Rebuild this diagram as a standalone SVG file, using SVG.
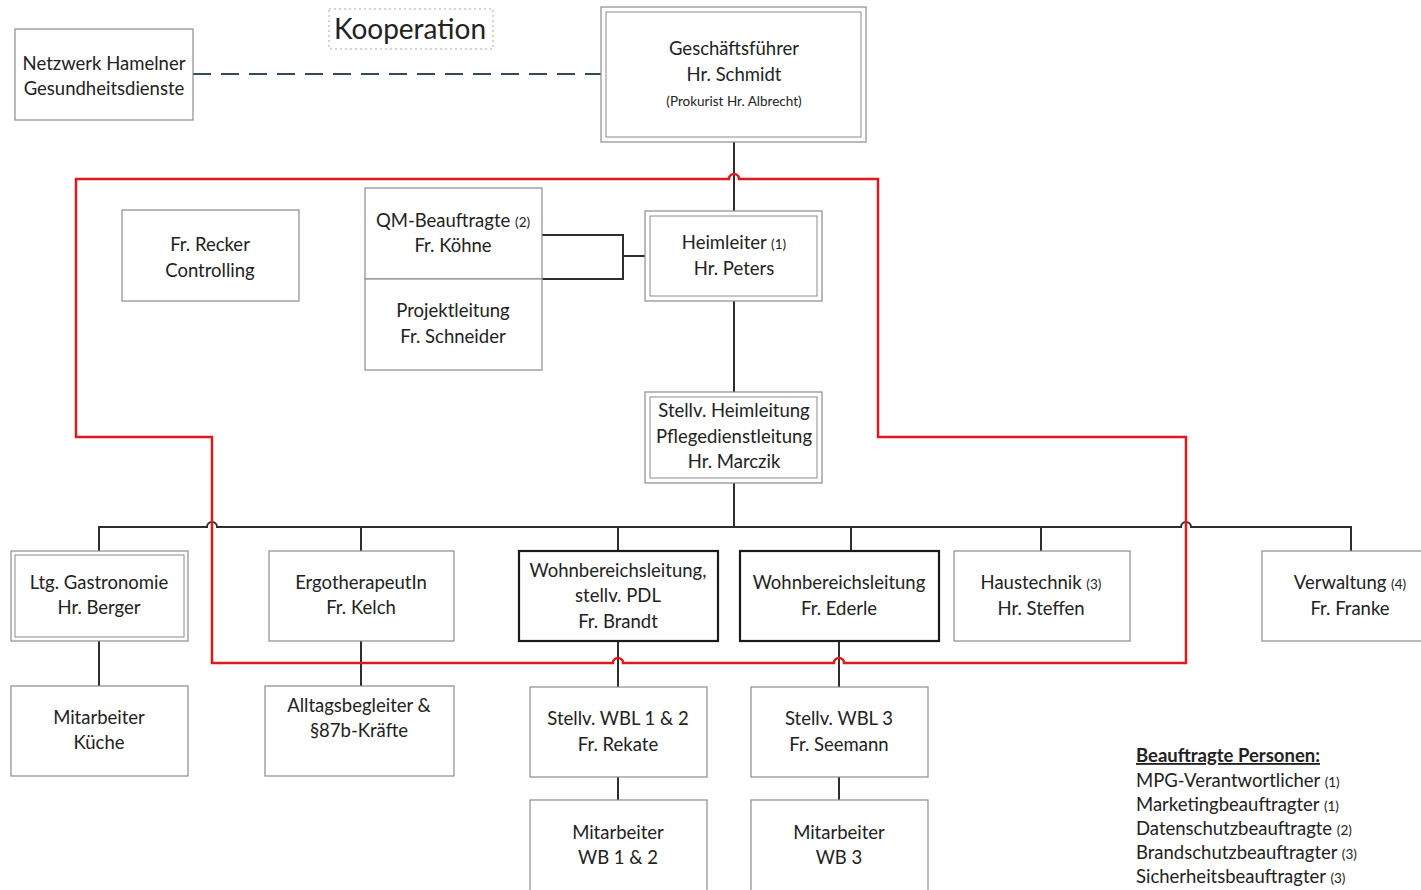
<svg xmlns="http://www.w3.org/2000/svg" width="1421" height="890" viewBox="0 0 1421 890">
<style>
text{font-family:Lato,"Open Sans","Liberation Sans",sans-serif;font-size:18.5px;fill:#222;text-anchor:middle}
.sm{font-size:13.5px}
.box{fill:#fff;stroke:#8c8c8c;stroke-width:1.2}
.inner{fill:none;stroke:#8c8c8c;stroke-width:1}
.bold{fill:#fff;stroke:#1a1a1a;stroke-width:2.2}
.con{fill:none;stroke:#2e2e2e;stroke-width:2}
.red{fill:none;stroke:#e0191e;stroke-width:2.5}
.leg{text-anchor:start}
</style>
<rect width="1421" height="890" fill="#fff"/>
<g id="connectors">
<path class="con" d="M193,74 L601,74" stroke-dasharray="18,10" style="stroke:#34495a"/>
<path class="con" d="M734,142 L734,211"/>
<path class="con" d="M542,235 L623,235 L623,279 L542,279 M623,256 L645,256"/>
<path class="con" d="M734,301 L734,392"/>
<path class="con" d="M734,483 L734,527"/>
<path class="con" d="M99,551 L99,527 L207,527 A5,5 0 0 1 217,527 L1181,527 A5,5 0 0 1 1191,527 L1351,527 L1351,551"/>
<path class="con" d="M361,527 L361,551 M618,527 L618,551 M851,527 L851,551 M1041,527 L1041,551"/>
<path class="con" d="M99,641 L99,686 M361,641 L361,686 M618,641 L618,687 M839,641 L839,687 M618,777 L618,800 M839,777 L839,800"/>
<path class="red" d="M76,179 L729,179 A5,5 0 0 1 739,179 L878,179 L878,437 L1186,437 L1186,663 L844,663 A5,5 0 0 0 834,663 L623,663 A5,5 0 0 0 613,663 L212,663 L212,437 L76,437 Z"/>
</g>
<g id="kooperation">
<rect x="329" y="9" width="164" height="40" fill="#fff" stroke="#aaa" stroke-width="1" stroke-dasharray="2,3"/>
<text x="410" y="39" style="font-size:28px">Kooperation</text>
</g>
<g id="netzwerk">
<rect class="box" x="15" y="29" width="178" height="91"/>
<text x="104" y="70">Netzwerk Hamelner</text>
<text x="104" y="95">Gesundheitsdienste</text>
</g>
<g id="geschaeftsfuehrer">
<rect class="box" x="601" y="7" width="265" height="135"/>
<rect class="inner" x="606" y="12" width="255" height="125"/>
<text x="734" y="55">Geschäftsführer</text>
<text x="734" y="81">Hr. Schmidt</text>
<text class="sm" x="734" y="106">(Prokurist Hr. Albrecht)</text>
</g>
<g id="recker">
<rect class="box" x="122" y="210" width="177" height="91"/>
<text x="210" y="251">Fr. Recker</text>
<text x="210" y="277">Controlling</text>
</g>
<g id="qm">
<rect class="box" x="365" y="188" width="177" height="91"/>
<text x="453" y="227">QM-Beauftragte <tspan class="sm">(2)</tspan></text>
<text x="453" y="252">Fr. Köhne</text>
</g>
<g id="projektleitung">
<rect class="box" x="365" y="279" width="177" height="91"/>
<text x="453" y="317">Projektleitung</text>
<text x="453" y="343">Fr. Schneider</text>
</g>
<g id="heimleiter">
<rect class="box" x="645" y="211" width="177" height="90"/>
<rect class="inner" x="650" y="216" width="167" height="80"/>
<text x="734" y="249">Heimleiter <tspan class="sm">(1)</tspan></text>
<text x="734" y="275">Hr. Peters</text>
</g>
<g id="stellv-heimleitung">
<rect class="box" x="645" y="392" width="177" height="91"/>
<rect class="inner" x="650" y="397" width="167" height="81"/>
<text x="734" y="417">Stellv. Heimleitung</text>
<text x="734" y="443">Pflegedienstleitung</text>
<text x="734" y="468">Hr. Marczik</text>
</g>
<g id="gastronomie">
<rect class="box" x="11" y="551" width="177" height="90"/>
<rect class="inner" x="15" y="555" width="169" height="82"/>
<text x="99" y="589">Ltg. Gastronomie</text>
<text x="99" y="614">Hr. Berger</text>
</g>
<g id="ergotherapeutin">
<rect class="box" x="269" y="551" width="185" height="90"/>
<text x="361" y="589">ErgotherapeutIn</text>
<text x="361" y="614">Fr. Kelch</text>
</g>
<g id="wbl-brandt">
<rect class="bold" x="519" y="551" width="199" height="90"/>
<text x="618" y="577">Wohnbereichsleitung,</text>
<text x="618" y="602">stellv. PDL</text>
<text x="618" y="628">Fr. Brandt</text>
</g>
<g id="wbl-ederle">
<rect class="bold" x="740" y="551" width="199" height="90"/>
<text x="839" y="589">Wohnbereichsleitung</text>
<text x="839" y="615">Fr. Ederle</text>
</g>
<g id="haustechnik">
<rect class="box" x="954" y="551" width="176" height="90"/>
<text x="1041" y="589">Haustechnik <tspan class="sm">(3)</tspan></text>
<text x="1041" y="615">Hr. Steffen</text>
</g>
<g id="verwaltung">
<rect class="box" x="1262" y="551" width="170" height="90"/>
<text x="1350" y="589">Verwaltung <tspan class="sm">(4)</tspan></text>
<text x="1350" y="615">Fr. Franke</text>
</g>
<g id="mitarbeiter-kueche">
<rect class="box" x="11" y="686" width="177" height="90"/>
<text x="99" y="724">Mitarbeiter</text>
<text x="99" y="749">Küche</text>
</g>
<g id="alltagsbegleiter">
<rect class="box" x="265" y="686" width="189" height="90"/>
<text x="359" y="712">Alltagsbegleiter &amp;</text>
<text x="359" y="737">§87b-Kräfte</text>
</g>
<g id="stellv-wbl-12">
<rect class="box" x="530" y="687" width="177" height="90"/>
<text x="618" y="725">Stellv. WBL 1 &amp; 2</text>
<text x="618" y="751">Fr. Rekate</text>
</g>
<g id="stellv-wbl-3">
<rect class="box" x="751" y="687" width="177" height="90"/>
<text x="839" y="725">Stellv. WBL 3</text>
<text x="839" y="751">Fr. Seemann</text>
</g>
<g id="mitarbeiter-wb12">
<rect class="box" x="530" y="800" width="177" height="100"/>
<text x="618" y="839">Mitarbeiter</text>
<text x="618" y="864">WB 1 &amp; 2</text>
</g>
<g id="mitarbeiter-wb3">
<rect class="box" x="751" y="800" width="177" height="100"/>
<text x="839" y="839">Mitarbeiter</text>
<text x="839" y="864">WB 3</text>
</g>
<g id="legende">
<text class="leg" x="1136" y="762" style="font-weight:bold;text-decoration:underline">Beauftragte Personen:</text>
<text class="leg" x="1136" y="787">MPG-Verantwortlicher <tspan class="sm">(1)</tspan></text>
<text class="leg" x="1136" y="811">Marketingbeauftragter <tspan class="sm">(1)</tspan></text>
<text class="leg" x="1136" y="835">Datenschutzbeauftragte <tspan class="sm">(2)</tspan></text>
<text class="leg" x="1136" y="859">Brandschutzbeauftragter <tspan class="sm">(3)</tspan></text>
<text class="leg" x="1136" y="883">Sicherheitsbeauftragter <tspan class="sm">(3)</tspan></text>
</g>
</svg>
